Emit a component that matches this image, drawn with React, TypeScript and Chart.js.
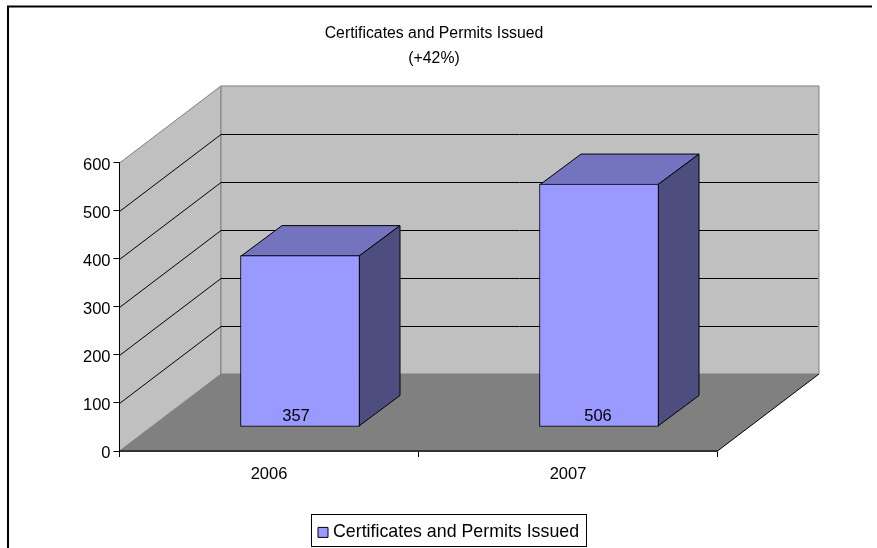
import React, { useEffect, useRef } from "react";
import { Chart, registerables } from "chart.js";

Chart.register(...registerables);

const categories = ["2006", "2007"];
const seriesName = "Certificates and Permits Issued";
const seriesValues = [357, 506];
const titleLines = ["Certificates and Permits Issued", "(+42%)"];

const FONT = '"Liberation Sans", Arial, sans-serif';
const WALL_DX = 101.5;
const WALL_DY = 77;
const BAR_SHIFT_X = 31;
const BAR_SHIFT_Y = 24;
const BAR_DX = 41;
const BAR_DY = 30.5;
const LABEL_NUDGE = [-4, -1];

function poly(ctx: CanvasRenderingContext2D, pts: number[][], fill: string | null, stroke: string | null) {
  ctx.beginPath();
  pts.forEach((p, i) => (i ? ctx.lineTo(p[0], p[1]) : ctx.moveTo(p[0], p[1])));
  ctx.closePath();
  if (fill) {
    ctx.fillStyle = fill;
    ctx.fill();
  }
  if (stroke) {
    ctx.strokeStyle = stroke;
    ctx.lineWidth = 1;
    ctx.stroke();
  }
}

const scenePlugin = {
  id: "scene",
  afterLayout(chart: any) {
    const t = chart.titleBlock;
    if (t) {
      t.left = 0;
      t.right = 868;
    }
    const l = chart.legend;
    if (l) {
      const colH = l.columnSizes && l.columnSizes[0] ? l.columnSizes[0].height : 18;
      l.left = 316.9;
      l.right = 590;
      l.top = 515;
      l.bottom = 527 + colH;
      l.height = l.bottom - l.top;
    }
  },
  beforeDraw(chart: any) {
    const { ctx, chartArea: a, scales } = chart;
    ctx.save();
    ctx.fillStyle = "#ffffff";
    ctx.fillRect(0, 0, chart.width, chart.height);

    // outer frame
    ctx.strokeStyle = "#000000";
    ctx.lineWidth = 2;
    ctx.beginPath();
    ctx.moveTo(8, 548);
    ctx.lineTo(8, 6.5);
    ctx.lineTo(872, 6.5);
    ctx.stroke();

    const L = a.left, R = a.right, T = a.top, B = a.bottom;
    poly(ctx, [[L, B], [L + WALL_DX, B - WALL_DY], [L + WALL_DX, T - WALL_DY], [L, T]], "#c0c0c0", "#808080");
    poly(ctx, [[L + WALL_DX, T - WALL_DY], [R + WALL_DX, T - WALL_DY], [R + WALL_DX, B - WALL_DY], [L + WALL_DX, B - WALL_DY]], "#c0c0c0", "#808080");
    poly(ctx, [[L, B], [R, B], [R + WALL_DX, B - WALL_DY], [L + WALL_DX, B - WALL_DY]], "#808080", null);

    ctx.strokeStyle = "#000000";
    ctx.lineWidth = 1;
    ctx.beginPath();
    ctx.moveTo(R, B);
    ctx.lineTo(R + WALL_DX, B - WALL_DY);
    ctx.stroke();

    scales.y.ticks.forEach((tk: any) => {
      if (tk.value === 0 || tk.value === scales.y.max) return;
      const y = Math.round(scales.y.getPixelForValue(tk.value)) + 0.5;
      ctx.strokeStyle = "#000000";
      ctx.beginPath();
      ctx.moveTo(L, y);
      ctx.lineTo(L + WALL_DX, y - WALL_DY);
      ctx.lineTo(R + WALL_DX - 1, y - WALL_DY);
      ctx.stroke();
    });

    // legend frame
    ctx.strokeStyle = "#000000";
    ctx.strokeRect(311.5, 514.5, 275, 32);
    ctx.restore();
  },
  beforeDatasetsDraw(chart: any) {
    const { ctx } = chart;
    ctx.save();
    chart.getDatasetMeta(0).data.forEach((el: any) => {
      const l = el.x - el.width / 2 + BAR_SHIFT_X + 0.5;
      const r = el.x + el.width / 2 + BAR_SHIFT_X - 0.5;
      const t = el.y - BAR_SHIFT_Y + 0.5;
      const b = el.base - BAR_SHIFT_Y - 0.5;
      poly(ctx, [[l, t], [l + BAR_DX, t - BAR_DY], [r + BAR_DX, t - BAR_DY], [r, t]], "#7373bf", "#000000");
      poly(ctx, [[r, t], [r + BAR_DX, t - BAR_DY], [r + BAR_DX, b - BAR_DY], [r, b]], "#4d4d80", "#000000");
    });
    ctx.restore();
    ctx.save();
    ctx.translate(BAR_SHIFT_X, -BAR_SHIFT_Y);
  },
  afterDatasetsDraw(chart: any) {
    const { ctx } = chart;
    ctx.restore();
    ctx.save();
    ctx.fillStyle = "#000000";
    ctx.font = `16.5px ${FONT}`;
    ctx.textAlign = "center";
    ctx.textBaseline = "middle";
    chart.getDatasetMeta(0).data.forEach((el: any, i: number) => {
      ctx.fillText(String(seriesValues[i]), el.x + BAR_SHIFT_X + LABEL_NUDGE[i], el.base - BAR_SHIFT_Y - 10);
    });
    ctx.restore();
  },
};

export default function App() {
  const ref = useRef<HTMLCanvasElement | null>(null);
  useEffect(() => {
    const chart = new Chart(ref.current as HTMLCanvasElement, {
      type: "bar",
      data: {
        labels: categories,
        datasets: [
          {
            label: seriesName,
            data: seriesValues,
            backgroundColor: "#9999ff",
            borderColor: "#000000",
            borderWidth: 1,
            borderSkipped: false,
            barThickness: 119,
          },
        ],
      },
      options: {
        animation: false,
        responsive: false,
        layout: { padding: { left: 0, right: 159.5, top: 0, bottom: 0 } },
        plugins: {
          title: {
            display: true,
            text: titleLines,
            color: "#000000",
            font: { family: FONT, size: 15.8, weight: "normal", lineHeight: 1.6 },
            padding: { top: 21, bottom: 91.4 },
          },
          legend: {
            display: true,
            position: "chartArea",
            labels: {
              color: "#000000",
              font: { family: FONT, size: 17.8 },
              usePointStyle: true,
              pointStyle: "rect",
              boxWidth: 2.2,
              boxHeight: 10,
              padding: 5,
            },
          },
          tooltip: { enabled: false },
        },
        scales: {
          x: {
            grid: { drawOnChartArea: false, color: "#000000", tickLength: 6, offset: true },
            border: { color: "#333333", width: 2 },
            ticks: { color: "#000000", font: { family: FONT, size: 16.5 }, padding: 8, maxRotation: 0 },
            afterFit(s: any) {
              s.height = 97;
            },
          },
          y: {
            min: 0,
            max: 600,
            grid: { drawOnChartArea: false, color: "#000000", tickLength: 6 },
            border: { color: "#000000", width: 1 },
            ticks: { color: "#000000", stepSize: 100, font: { family: FONT, size: 16.5 }, padding: 3, labelOffset: 2.5 },
            afterFit(s: any) {
              s.width = 119.5;
            },
          },
        },
      } as any,
      plugins: [scenePlugin as any],
    });
    return () => chart.destroy();
  }, []);
  return (
    <div style={{ position: "absolute", left: 0, top: 0, width: 877, height: 548 }}>
      <canvas ref={ref} width={877} height={548} style={{ display: "block" }} />
    </div>
  );
}
